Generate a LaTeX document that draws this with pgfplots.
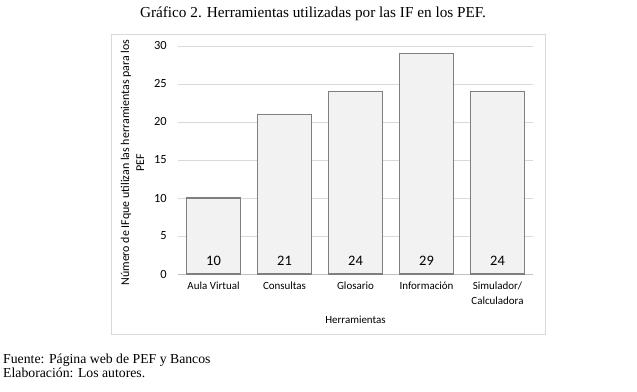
\documentclass[border=0pt]{standalone}
\usepackage{fontspec}
\setmainfont{Carlito}
\newfontfamily\serif{Liberation Serif}
\usepackage{pgfplots}
\pgfplotsset{compat=1.18}
\definecolor{gridc}{HTML}{D9D9D9}
\definecolor{barfill}{HTML}{F2F2F2}
\definecolor{baredge}{HTML}{7F7F7F}
\definecolor{axc}{HTML}{BFBFBF}
\begin{document}
\begin{tikzpicture}[x=1bp,y=1bp]
\useasboundingbox (0,0) rectangle (637,391);
\draw[gridc, line width=0.8bp] (111.5,57) rectangle (545,357);
\node[anchor=base, font=\serif\fontsize{15.3}{18}\selectfont] at (313,374) {Gráfico 2. Herramientas utilizadas por las IF en los PEF.};
\node[anchor=base west, inner sep=0pt, font=\serif\fontsize{13.8}{16}\selectfont] at (3,28) {Fuente: Página web de PEF y Bancos};
\node[anchor=base west, inner sep=0pt, font=\serif\fontsize{13.8}{16}\selectfont] at (3,14) {Elaboración: Los autores.};
\begin{axis}[
  at={(178bp,117bp)}, anchor=south west,
  scale only axis, width=355bp, height=228bp,
  xmin=-0.5, xmax=4.5, ymin=0, ymax=30,
  ytick={0,5,...,30},
  xtick={0,1,2,3,4},
  xticklabels={Aula Virtual, Consultas, Glosario, Información, Simulador/\\Calculadora},
  major tick length=0pt,
  axis x line*=bottom, axis y line*=left,
  x axis line style={axc, line width=0.8bp, -},
  y axis line style={draw=none},
  ymajorgrids, grid style={gridc, line width=0.8bp},
  /pgf/number format/assume math mode=true,
  yticklabel style={font=\fontsize{12.5}{14}\selectfont, anchor=east, inner sep=0pt, xshift=-11bp},
  xticklabel style={font=\fontsize{11}{15}\selectfont, align=center, anchor=north, inner sep=0pt, yshift=-8bp},
  clip=false,
]
\addplot[ybar, bar width=54bp, fill=barfill, draw=baredge, line width=1.2bp] coordinates {(0,10) (1,21) (2,24) (3,29) (4,24)};
\addplot[only marks, mark=none, point meta=explicit, nodes near coords,
  every node near coord/.append style={anchor=center, inner sep=0pt, font=\fontsize{14.5}{16}\selectfont}]
  coordinates {(0,1.7) [10] (1,1.7) [21] (2,1.7) [24] (3,1.7) [29] (4,1.7) [24]};
\end{axis}
\node[font=\fontsize{11}{14}\selectfont] at (355.5,71) {Herramientas};
\node[rotate=90, align=center, font=\fontsize{12}{15}\selectfont] at (132.5,228.5) {Número de IFque utilizan las herramientas para los\\PEF};
\end{tikzpicture}
\end{document}
